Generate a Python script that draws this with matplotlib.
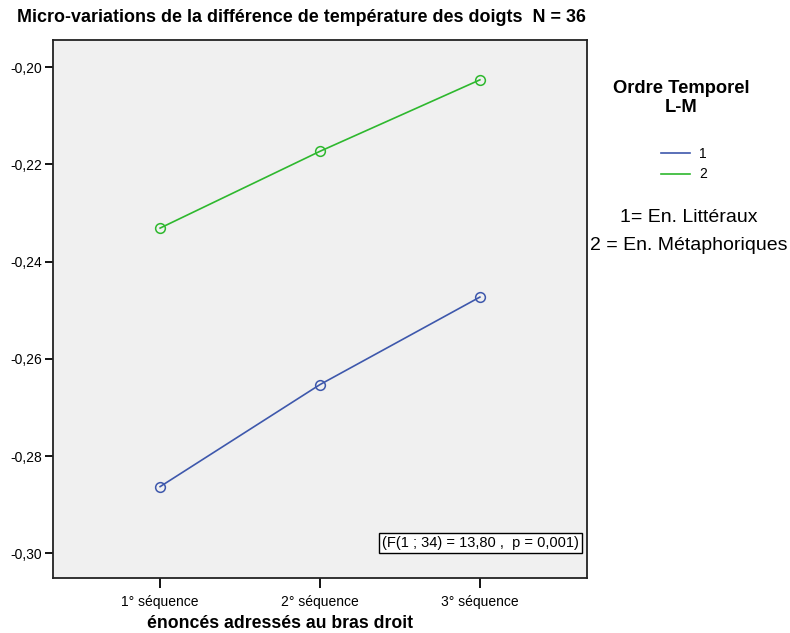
import matplotlib
matplotlib.use("Agg")
import matplotlib.pyplot as plt
from matplotlib.lines import Line2D

plt.rcParams['font.family'] = ['Liberation Sans', 'DejaVu Sans']

categories = ["1° séquence", "2° séquence", "3° séquence"]
series_names = ["1", "2"]
values_1 = [-0.2863, -0.2653, -0.2473]
values_2 = [-0.2331, -0.2173, -0.2026]
y_ticks = [-0.30, -0.28, -0.26, -0.24, -0.22, -0.20]
y_tick_labels = ["-0,30", "-0,28", "-0,26", "-0,24", "-0,22", "-0,20"]
colors = ["#3E58AC", "#2EB82E"]

fig = plt.figure(figsize=(7.9, 6.33), dpi=100)
ax = fig.add_axes([53/790, 1-578/633, (587-53)/790, (578-40)/633])
ax.set_facecolor("#F0F0F0")

x = [1, 2, 3]
for vals, c in zip([values_1, values_2], colors):
    ax.plot(x, vals, color=c, lw=1.2, marker='o', markersize=7,
            markerfacecolor='none', markeredgecolor=c, markeredgewidth=1.1)

ax.set_xlim(0.33, 3.67)
ax.set_ylim(-0.3051, -0.1944)
ax.set_xticks(x)
ax.set_xticklabels(categories, fontsize=10)
ax.set_yticks(y_ticks)
ax.set_yticklabels(y_tick_labels, fontsize=10)
ax.tick_params(axis='x', length=7, width=1.3, pad=5)
ax.tick_params(axis='y', length=6, width=1.3, pad=2)
for s in ax.spines.values():
    s.set_linewidth(1.3)
    s.set_color("#222222")

ax.set_xlabel("énoncés adressés au bras droit", fontsize=12.7, fontweight='bold')
ax.xaxis.set_label_coords((280-53)/534, -(623-578)/538)
ax.xaxis.label.set_va('center')
fig.text(17/790, 1-18/633, "Micro-variations de la différence de température des doigts  N = 36",
         fontsize=12.9, fontweight='bold', ha='left', va='center')

ax.text(0.985, (578-543)/538, "(F(1 ; 34) = 13,80 ,  p = 0,001)", transform=ax.transAxes,
        fontsize=10.5, ha='right', va='center',
        bbox=dict(boxstyle='square,pad=0.2', fc='white', ec='black', lw=1))

# Legend area
fig.text(681/790, 1-98/633, "Ordre Temporel\nL-M", fontsize=13.2, fontweight='bold',
         ha='center', va='center', multialignment='center', linespacing=1.12)
handles = [Line2D([0], [0], color=c, lw=1.2) for c in colors]
leg = fig.legend(handles, series_names, loc='center', bbox_to_anchor=(684/790, 1-164/633),
                 frameon=False, fontsize=10, handlelength=2.1, handletextpad=0.6,
                 labelspacing=0.5)
fig.text(689/790, 1-217/633, "1= En. Littéraux", fontsize=14, ha='center', va='center')
fig.text(689/790, 1-245/633, "2 = En. Métaphoriques", fontsize=14, ha='center', va='center')

fig.savefig("out.png", dpi=100)
